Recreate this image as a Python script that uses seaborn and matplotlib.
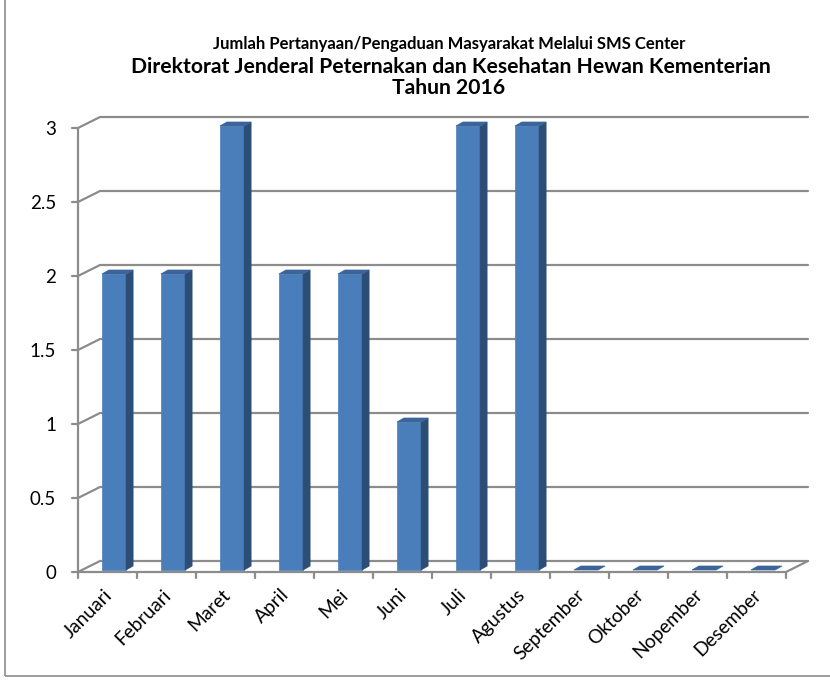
import matplotlib
matplotlib.use("Agg")
import matplotlib.pyplot as plt
from matplotlib.patches import Polygon, Rectangle
from matplotlib.lines import Line2D
from matplotlib.transforms import IdentityTransform
import seaborn as sns
import pandas as pd
import numpy as np

months = ["Januari", "Februari", "Maret", "April", "Mei", "Juni", "Juli",
          "Agustus", "September", "Oktober", "Nopember", "Desember"]
counts = [2, 2, 3, 2, 2, 1, 3, 3, 0, 0, 0, 0]
yticks = [0, 0.5, 1, 1.5, 2, 2.5, 3]
ytick_labels = ["0", "0.5", "1", "1.5", "2", "2.5", "3"]
title1 = "Jumlah Pertanyaan/Pengaduan Masyarakat Melalui SMS Center"
title2 = "Direktorat Jenderal Peternakan dan Kesehatan Hewan Kementerian"
title3 = "Tahun 2016"

sns.set_theme(style="white")
plt.rcParams["font.family"] = ["Lato", "DejaVu Sans"]

W, H = 830, 681
DPI = 100
fig = plt.figure(figsize=(W / DPI, H / DPI), dpi=DPI)
fig.patch.set_facecolor("white")

# front plane of the 3D box (pixels from top-left)
x0, x1 = 78, 786
y_bottom, y_top = 572, 128
ax = fig.add_axes([x0 / W, 1 - y_bottom / H, (x1 - x0) / W, (y_bottom - y_top) / H])
ax.set_facecolor("none")

df = pd.DataFrame({"month": months, "count": counts})
sns.barplot(data=df, x="month", y="count", ax=ax, color="#4a7ebb",
            width=0.41, saturation=1, edgecolor="none", order=months)
ax.set_xlim(-0.5, len(months) - 0.5)
ax.set_ylim(0, 3)
for s in ax.spines.values():
    s.set_visible(False)
ax.set_xlabel("")
ax.set_ylabel("")
ax.set_xticks([])
ax.set_yticks([])

fig.canvas.draw()
tr = ax.transData


def px(xd, yd):
    X, Y = tr.transform((xd, yd))
    return X, Y  # display coords (origin bottom-left)


DX, DY = 22, 11           # back wall offset
BX, BY = 6.5, 2           # bar front face offset
SX, SY = 7, 4             # bar depth
grid_c = "#8c8c8c"
lw = 1.6

# gridlines / back wall
for v in yticks:
    fx, fy = px(-0.5, v)
    rx, _ = px(len(months) - 0.5, v)
    fig.add_artist(Line2D([fx, fx + DX, rx + DX], [fy, fy + DY, fy + DY],
                          transform=IdentityTransform(), color=grid_c, lw=lw, zorder=1))
# floor
fx, fy = px(-0.5, 0)
rx, _ = px(len(months) - 0.5, 0)
fig.add_artist(Line2D([fx, rx, rx + DX], [fy, fy, fy + DY],
                      transform=IdentityTransform(), color=grid_c, lw=lw, zorder=1))
# front vertical axis
_, ty = px(-0.5, 3)
fig.add_artist(Line2D([fx, fx], [fy, ty], transform=IdentityTransform(),
                      color=grid_c, lw=lw, zorder=1))
# y tick marks + labels
for v, lab in zip(yticks, ytick_labels):
    _, yy = px(-0.5, v)
    fig.add_artist(Line2D([fx - 6, fx], [yy, yy], transform=IdentityTransform(),
                          color=grid_c, lw=lw, zorder=1))
    fig.text((fx - 22) / W, yy / H, lab, ha="right", va="center_baseline",
             fontsize=13.5, color="black")
# x tick marks
for i in range(len(months) + 1):
    xx, _ = px(i - 0.5, 0)
    fig.add_artist(Line2D([xx, xx], [fy, fy - 6], transform=IdentityTransform(),
                          color=grid_c, lw=lw, zorder=1))
for i, m in enumerate(months):
    xx, _ = px(i, 0)
    fig.text((xx - 4) / W, (fy - 14) / H, m, ha="right", va="top",
             rotation=45, rotation_mode="anchor", fontsize=13.8, color="black")

# 3D bars
for p in list(ax.patches):
    bx, by = p.get_x(), p.get_y()
    bw, bh = p.get_width(), p.get_height()
    p.set_visible(False)
    lx, ly = px(bx, by)
    rx2, ty2 = px(bx + bw, by + bh)
    lx += BX; rx2 += BX; ly += BY; ty2 += BY
    front = Polygon([(lx, ly), (rx2, ly), (rx2, ty2), (lx, ty2)], closed=True,
                    transform=IdentityTransform(), facecolor="#4a7ebb",
                    edgecolor="#4a7ebb", lw=0.5, zorder=3)
    side = Polygon([(rx2, ly), (rx2 + SX, ly + SY), (rx2 + SX, ty2 + SY), (rx2, ty2)],
                   closed=True, transform=IdentityTransform(), facecolor="#2c4d75",
                   edgecolor="#2c4d75", lw=0.5, zorder=3)
    top = Polygon([(lx, ty2), (rx2, ty2), (rx2 + SX, ty2 + SY), (lx + SX, ty2 + SY)],
                  closed=True, transform=IdentityTransform(), facecolor="#3b659a",
                  edgecolor="#3b659a", lw=0.5, zorder=3)
    if bh > 0:
        fig.add_artist(front)
        fig.add_artist(side)
    fig.add_artist(top)

# titles
fig.text(449 / W, 1 - 43 / H, title1, ha="center", va="center_baseline",
         fontsize=12, fontweight="bold", color="black")
fig.text(451 / W, 1 - 65 / H, title2, ha="center", va="center_baseline",
         fontsize=15.2, fontweight="bold", color="black")
fig.text(449 / W, 1 - 86 / H, title3, ha="center", va="center_baseline",
         fontsize=15.2, fontweight="bold", color="black")

# outer border
fig.add_artist(Rectangle((5, 5), W + 20, H + 20, transform=IdentityTransform(),
                         fill=False, edgecolor="#8c8c8c", lw=1.2))

fig.savefig("out.png", dpi=DPI)
